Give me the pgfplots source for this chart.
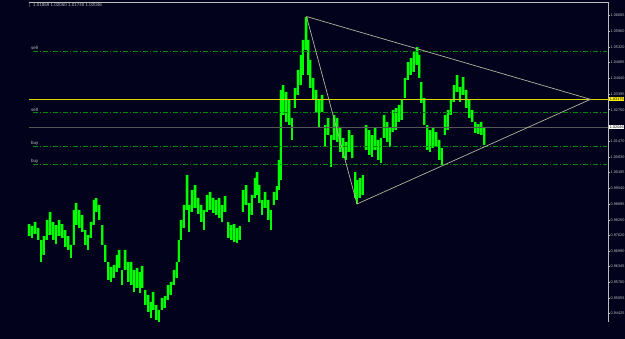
\documentclass[border=0pt]{standalone}
\usepackage{pgfplots}
\usepackage{pgfplotstable}
\pgfplotsset{compat=1.18}
\usepackage{fontspec}
\setmainfont{Liberation Sans}
\definecolor{bg}{RGB}{2,2,28}
\definecolor{barc}{RGB}{0,255,0}
\definecolor{bard}{RGB}{0,165,0}
\definecolor{lvl}{RGB}{0,140,0}
\definecolor{ylw}{RGB}{215,215,0}
\definecolor{gln}{RGB}{85,85,85}
\definecolor{tln}{RGB}{180,180,155}
\definecolor{fr}{RGB}{190,190,190}

\pgfplotstableread{
x hi lo
29 0.98086 0.97596
32 0.98005 0.97515
35 0.98168 0.97678
38 0.97923 0.97433
41 0.97433 0.96535
44 0.97596 0.96821
47 0.98250 0.97433
50 0.98576 0.97637
53 0.98168 0.97433
56 0.98045 0.97270
59 0.98250 0.97596
62 0.98086 0.97515
65 0.97841 0.97147
68 0.97596 0.97025
71 0.97229 0.96698
74 0.98658 0.97229
76 0.98944 0.98045
79 0.98658 0.97923
82 0.98454 0.97760
85 0.97841 0.97229
88 0.97637 0.97025
91 0.98168 0.97515
94 0.99066 0.98045
96 0.99148 0.98576
99 0.98862 0.98250
102 0.98045 0.97229
105 0.97229 0.96535
108 0.96535 0.95800
111 0.96331 0.95719
114 0.96413 0.95882
117 0.96821 0.96127
119 0.97025 0.96290
122 0.96209 0.95596
125 0.97025 0.96209
128 0.96535 0.95719
131 0.96535 0.95596
134 0.96209 0.95311
137 0.96290 0.95474
140 0.96127 0.95270
142 0.96372 0.95474
145 0.95392 0.94780
148 0.95188 0.94494
151 0.94902 0.94249
153 0.95311 0.94576
156 0.94780 0.94168
159 0.94576 0.94086
162 0.95066 0.94576
165 0.95147 0.94657
168 0.95596 0.94984
171 0.95719 0.95188
174 0.96209 0.95596
177 0.96535 0.95882
179 0.97433 0.96535
181 0.98250 0.97433
184 0.98862 0.97923
187 1.00086 0.98658
189 0.98862 0.97760
192 0.99474 0.98576
195 0.99678 0.98739
198 0.99148 0.98495
201 0.98862 0.98168
204 0.98658 0.97841
207 0.99270 0.98576
210 0.99393 0.98658
213 0.99148 0.98535
216 0.99066 0.98454
219 0.99148 0.98331
222 0.98862 0.98168
225 0.99229 0.98576
228 0.98168 0.97515
231 0.98045 0.97433
234 0.98086 0.97352
237 0.97923 0.97311
240 0.98005 0.97433
243 0.99474 0.98576
246 0.99678 0.98862
249 0.98944 0.98168
252 0.99270 0.98454
255 0.99964 0.99148
257 1.00209 0.99270
259 0.99678 0.98944
262 0.99066 0.98454
265 0.99393 0.98739
268 0.99066 0.98250
271 0.98658 0.97841
274 0.99393 0.98862
277 0.99637 0.99066
279 1.00699 0.99474
281 1.03556 0.99882
283 1.03760 1.02536
286 1.03475 1.02250
289 1.03148 1.02127
292 1.02413 1.01515
295 1.03638 1.02821
298 1.04373 1.03352
301 1.04985 1.03760
303 1.05597 1.04168
306 1.06536 1.05189
308 1.05597 1.04168
310 1.04781 1.03638
313 1.04046 1.03148
316 1.03556 1.02658
319 1.03148 1.02046
322 1.03352 1.02658
325 1.02127 1.01229
328 1.02413 1.01719
331 1.01719 1.00413
334 1.02536 1.01515
337 1.02413 1.01434
340 1.02046 1.01025
343 1.01597 1.00780
346 1.01434 1.00699
349 1.01923 1.01025
352 1.01719 1.00780
355 1.00209 0.99148
357 0.99882 0.98903
360 0.99964 0.99148
363 1.00086 0.99270
366 1.02127 1.01107
369 1.01923 1.00903
372 1.01719 1.00821
375 1.02005 1.01107
378 1.01515 1.00699
381 1.01597 1.00576
384 1.02536 1.01597
387 1.02250 1.01434
390 1.02005 1.01229
393 1.02740 1.01842
396 1.02821 1.01923
399 1.02944 1.02250
402 1.03148 1.02332
405 1.04046 1.03230
408 1.04699 1.03964
411 1.04862 1.04168
414 1.05107 1.04291
417 1.05311 1.04577
419 1.04985 1.04046
421 1.03883 1.03026
424 1.03230 1.02127
427 1.02127 1.01107
430 1.01923 1.01025
433 1.02005 1.01189
436 1.01842 1.01229
439 1.01515 1.00699
442 1.01189 1.00495
445 1.02536 1.01719
448 1.02740 1.01923
451 1.03148 1.02536
454 1.03760 1.03066
457 1.04168 1.03475
460 1.03679 1.03066
463 1.04087 1.03352
466 1.03556 1.02821
469 1.03148 1.02413
472 1.02740 1.02250
475 1.02250 1.01801
478 1.02168 1.01760
481 1.02250 1.01719
484 1.02005 1.01311
}\bars

\begin{document}
\begin{tikzpicture}
\fill[bg] (0,0) rectangle (625pt,339pt);
\begin{axis}[at={(0,0)}, anchor=south west, width=625pt, height=339pt,
  scale only axis, hide axis, xmin=0, xmax=625, ymin=0.93392, ymax=1.0723, clip=true]
% price bars: dark-green columns up to the high, masked below the low
\addplot[ybar, bar width=3pt, bar shift=0pt, fill=bard, draw=none, forget plot] table[x=x, y=hi] {\bars};
\addplot[ybar, bar width=4.6pt, bar shift=0pt, fill=bg, draw=none, forget plot] table[x=x, y=lo] {\bars};
\addplot[draw=none, forget plot, error bars/.cd, y dir=plus, y explicit, error mark=none,
  error bar style={draw=barc, line width=1.2pt}]
  table[x=x, y=lo, y error plus expr=\thisrow{hi}-\thisrow{lo}] {\bars};
% level lines
\addplot[color=lvl, line width=0.6pt, dash pattern=on 5pt off 2pt on 1pt off 2pt] coordinates {(33,1.05148) (607,1.05148)};
\addplot[color=lvl, line width=0.6pt, dash pattern=on 5pt off 2pt on 1pt off 2pt] coordinates {(33,1.02638) (607,1.02638)};
\addplot[color=lvl, line width=0.6pt, dash pattern=on 5pt off 2pt on 1pt off 2pt] coordinates {(33,1.01258) (607,1.01258)};
\addplot[color=lvl, line width=0.6pt, dash pattern=on 5pt off 2pt on 1pt off 2pt] coordinates {(33,1.00535) (607,1.00535)};
\addplot[color=ylw, line width=1pt] coordinates {(29,1.03175) (608,1.03175)};
\addplot[color=gln, line width=0.8pt] coordinates {(29,1.02046) (608,1.02046)};
% triangle
\addplot[color=tln, line width=0.7pt] coordinates {(306.5,1.06556) (357,0.98903) (590.5,1.03175) (306.5,1.06556)};
% frame
\draw[fr, line width=0.6pt] (axis cs:29,1.07148) -- (axis cs:608,1.07148) -- (axis cs:608,0.94086);
% price scale
\pgfplotsinvokeforeach{1.06605,1.05960,1.05320,1.04685,1.04040,1.03395,1.02750,1.01470,1.00830,1.00185,0.99540,0.98895,0.98250,0.97620,0.96990,0.96345,0.95700,0.95055,0.94425}{
  \draw[fr, line width=0.5pt] (axis cs:608,#1) -- (axis cs:610,#1);
  \node[anchor=west, text=fr, font=\fontsize{3.8}{4.5}\selectfont, inner sep=0.2pt] at (axis cs:610.3,#1) {#1};
}
\node[anchor=west, fill=yellow, text=black, font=\fontsize{3.8}{4.5}\selectfont, inner sep=0.7pt] at (axis cs:609,1.03175) {1.03175};
\node[anchor=west, fill=white, text=black, font=\fontsize{3.8}{4.5}\selectfont, inner sep=0.7pt] at (axis cs:609,1.02046) {1.02046};
% level labels
\node[anchor=west, text=fr, font=\fontsize{4.5}{5}\selectfont, inner sep=0.3pt] at (axis cs:30.5,1.05271) {sell};
\node[anchor=west, text=fr, font=\fontsize{4.5}{5}\selectfont, inner sep=0.3pt] at (axis cs:30.5,1.02761) {sell};
\node[anchor=west, text=fr, font=\fontsize{4.5}{5}\selectfont, inner sep=0.3pt] at (axis cs:30.5,1.01381) {buy};
\node[anchor=west, text=fr, font=\fontsize{4.5}{5}\selectfont, inner sep=0.3pt] at (axis cs:30.5,1.00658) {buy};
% header
\node[anchor=west, text=fr, font=\fontsize{4.5}{5}\selectfont, inner sep=0.3pt] at (axis cs:29,1.07005) {| \ 1.01869 1.02050 1.01740 1.02046};
\end{axis}
\pgfresetboundingbox
\useasboundingbox (0,0) rectangle (625pt,339pt);
\end{tikzpicture}
\end{document}
